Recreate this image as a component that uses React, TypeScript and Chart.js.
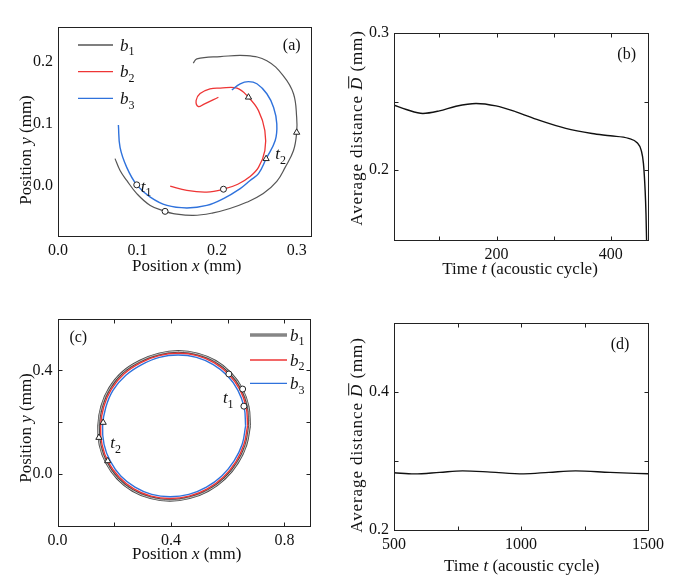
import React, { useEffect, useRef } from 'react';
import { Chart, registerables } from 'chart.js';
Chart.register(...registerables);

const FONT = '"Liberation Serif", "Times New Roman", serif';
const BLACK = '#3c3c3c';
const RED = '#ee3535';
const BLUE = '#2f72dc';

// ---------- Panel (a): trajectories ----------
const aB1: number[][] = [[0.170,0.197],[0.1745,0.204],[0.204,0.2075],[0.237,0.209],[0.2625,0.201],[0.283,0.177],[0.296,0.148],[0.300,0.110],[0.300,0.086],[0.296,0.057],[0.2855,0.030],[0.275,0.0075],[0.258,-0.012],[0.237,-0.026],[0.216,-0.036],[0.195,-0.043],[0.170,-0.047],[0.145,-0.044],[0.1346,-0.0405],[0.116,-0.031],[0.099,-0.012],[0.0864,0.009],[0.078,0.025],[0.0717,0.044]];
const aB2: number[][] = [[0.2016,0.1424],[0.183,0.131],[0.1765,0.1274],[0.1736,0.1372],[0.1786,0.1483],[0.191,0.1558],[0.204,0.157],[0.225,0.157],[0.2394,0.1424],[0.252,0.121],[0.260,0.089],[0.260,0.057],[0.252,0.030],[0.241,0.015],[0.226,0.003],[0.208,-0.005],[0.187,-0.0096],[0.162,-0.007],[0.141,0.000]];
const aB3: number[][] = [[0.2185,0.154],[0.229,0.164],[0.2394,0.1675],[0.250,0.164],[0.2625,0.148],[0.271,0.126],[0.275,0.100],[0.273,0.073],[0.2616,0.0438],[0.252,0.020],[0.2415,0.009],[0.229,-0.004],[0.208,-0.020],[0.187,-0.031],[0.162,-0.035],[0.137,-0.031],[0.116,-0.0176],[0.099,0.002],[0.0864,0.030],[0.078,0.062],[0.0759,0.098]];
const aT1: number[][] = [[0.1346,-0.0405],[0.208,-0.005],[0.099,0.002]];
const aT2: number[][] = [[0.300,0.086],[0.2394,0.1424],[0.2616,0.0438]];

// ---------- Panel (b): average distance ----------
const bTime: number[] = [20.5,42,71,100,129,164,199,234,274,321,367,399,431,446,453,457,460,461.5,462.5];
const bDist: number[] = [0.2473,0.2442,0.2413,0.2432,0.2466,0.2486,0.2468,0.2425,0.2364,0.2304,0.2267,0.2250,0.2231,0.2199,0.2146,0.2049,0.185,0.168,0.149];

// ---------- Panel (c): closed orbits ----------
const cB1: number[][] = [[0.677,0.186],[0.672,0.260],[0.649,0.330],[0.610,0.389],[0.557,0.435],[0.494,0.463],[0.426,0.473],[0.357,0.463],[0.291,0.436],[0.229,0.392],[0.184,0.332],[0.156,0.262],[0.145,0.186],[0.150,0.112],[0.173,0.043],[0.212,-0.017],[0.265,-0.063],[0.328,-0.091],[0.396,-0.101],[0.465,-0.091],[0.531,-0.063],[0.589,-0.017],[0.634,0.043],[0.664,0.112],[0.677,0.186]];
const cB2: number[][] = [[0.670,0.186],[0.665,0.259],[0.643,0.326],[0.604,0.384],[0.553,0.429],[0.492,0.457],[0.426,0.466],[0.358,0.457],[0.294,0.430],[0.235,0.387],[0.190,0.328],[0.163,0.260],[0.152,0.186],[0.157,0.114],[0.179,0.046],[0.218,-0.012],[0.269,-0.057],[0.330,-0.085],[0.397,-0.094],[0.464,-0.085],[0.528,-0.057],[0.584,-0.012],[0.628,0.046],[0.657,0.114],[0.670,0.186]];
const cB3: number[][] = [[0.663,0.186],[0.658,0.257],[0.636,0.323],[0.599,0.379],[0.549,0.422],[0.490,0.450],[0.425,0.459],[0.359,0.450],[0.297,0.422],[0.241,0.381],[0.196,0.324],[0.170,0.257],[0.159,0.186],[0.164,0.115],[0.186,0.050],[0.223,-0.007],[0.273,-0.050],[0.332,-0.078],[0.397,-0.087],[0.463,-0.078],[0.525,-0.050],[0.579,-0.007],[0.622,0.050],[0.651,0.115],[0.663,0.186]];
const cT1: number[][] = [[0.604,0.386],[0.6526,0.328],[0.657,0.262]];
const cT2: number[][] = [[0.161,0.199],[0.146,0.141],[0.177,0.051]];

// ---------- Panel (d): average distance ----------
const dTime: number[] = [500,580,680,770,880,1010,1110,1215,1350,1500];
const dDist: number[] = [0.2830,0.2812,0.2835,0.2857,0.2840,0.2814,0.2835,0.2857,0.2835,0.2815];

// tick values
const aXLabels = [0, 0.1, 0.2, 0.3];
const aYLabels = [0, 0.1, 0.2];
const bXLabels = [200, 400];
const bXMarks = [100, 200, 300, 400];
const bYLabels = [0.2, 0.3];
const bYMarks = [0.2, 0.25];
const cXLabels = [0, 0.4, 0.8];
const cXMarks = [0.2, 0.4, 0.6, 0.8];
const cYLabels = [0, 0.4];
const cYMarks = [0, 0.2, 0.4];
const dXLabels = [500, 1000, 1500];
const dXMarks = [750, 1000, 1250];
const dYLabels = [0.2, 0.4];
const dYMarks = [0.3, 0.4];

type Run = { t: string; it?: boolean; sub?: boolean; bar?: boolean };
type TextItem = { runs: Run[]; x: number; y: number; rot?: number; align?: 'center' | 'left'; size?: number; data?: boolean; spacing?: number };

const bLabel = (n: string): Run[] => [{ t: 'b', it: true }, { t: n, sub: true }];
const tLabel = (n: string): Run[] => [{ t: 't', it: true }, { t: n, sub: true }];
const posX: Run[] = [{ t: 'Position ' }, { t: 'x', it: true }, { t: ' (mm)' }];
const posY: Run[] = [{ t: 'Position ' }, { t: 'y', it: true }, { t: ' (mm)' }];
const timeT: Run[] = [{ t: 'Time ' }, { t: 't', it: true }, { t: ' (acoustic cycle)' }];
const avgD: Run[] = [{ t: 'Average distance ' }, { t: 'D', it: true, bar: true }, { t: ' (mm)' }];

function fontFor(r: Run, size: number) {
  return `${r.it ? 'italic ' : ''}${r.sub ? Math.round(size * 0.68) : size}px ${FONT}`;
}

function drawRuns(ctx: CanvasRenderingContext2D, it: TextItem, px: number, py: number) {
  const size = it.size || 17;
  ctx.save();
  ctx.translate(px, py);
  if (it.rot) ctx.rotate(it.rot);
  (ctx as any).letterSpacing = `${it.spacing || 0}px`;
  const widths = it.runs.map(r => { ctx.font = fontFor(r, size); return ctx.measureText(r.t).width; });
  const total = widths.reduce((a, b) => a + b, 0);
  let cx = it.align === 'left' ? 0 : -total / 2;
  const base = size * 0.33;
  ctx.textBaseline = 'alphabetic';
  ctx.textAlign = 'left';
  ctx.fillStyle = '#111';
  it.runs.forEach((r, i) => {
    ctx.font = fontFor(r, size);
    const dy = r.sub ? base + size * 0.28 : base;
    ctx.fillText(r.t, cx, dy);
    if (r.bar) {
      ctx.beginPath();
      ctx.moveTo(cx + 1.5, base - size * 0.8);
      ctx.lineTo(cx + widths[i] + 0.5, base - size * 0.8);
      ctx.lineWidth = 1;
      ctx.strokeStyle = '#111';
      ctx.stroke();
    }
    cx += widths[i];
  });
  ctx.restore();
}

type LegendCfg = { x1: number; x2: number; tx: number; ys: number[]; doubleFirst?: boolean };

interface PanelCfg {
  area: { l: number; t: number; r: number; b: number };
  x: { min: number; max: number; labels: number[]; marks: number[]; dec: number };
  y: { min: number; max: number; labels: number[]; marks: number[]; dec: number };
  datasets: any[];
  texts: TextItem[];
  legend?: LegendCfg;
}

const toXY = (arr: number[][]) => arr.map(p => ({ x: p[0], y: p[1] }));
const zipXY = (xs: number[], ys: number[]) => xs.map((x, i) => ({ x, y: ys[i] }));

const lineDs = (data: any[], color: string, width: number, extra: any = {}) => ({
  data, borderColor: color, borderWidth: width, showLine: true, pointRadius: 0, fill: false, tension: 0.4, ...extra,
});
const markerDs = (data: any[], style: string) => ({
  data, showLine: false, pointStyle: style, pointRadius: style === 'triangle' ? 3.6 : 3,
  pointBorderColor: '#222', pointBackgroundColor: '#fff', pointBorderWidth: 1,
});

const panels: PanelCfg[] = [
  {
    area: { l: 58, t: 27, r: 311, b: 236 },
    x: { min: 0, max: 0.318, labels: aXLabels, marks: [], dec: 1 },
    y: { min: -0.08, max: 0.255, labels: aYLabels, marks: [], dec: 1 },
    datasets: [
      markerDs(toXY(aT1), 'circle'),
      markerDs(toXY(aT2), 'triangle'),
      lineDs(toXY(aB3), BLUE, 1.4),
      lineDs(toXY(aB2), RED, 1.3),
      lineDs(toXY(aB1), '#555', 1.2),
    ],
    texts: [
      { runs: posX, x: 186.7, y: 265 },
      { runs: posY, x: 25, y: 150, rot: -Math.PI / 2 },
      { runs: [{ t: '(a)' }], x: 291.7, y: 45, size: 16 },
      { runs: tLabel('1'), x: 0.104, y: 0.0, align: 'left', data: true },
      { runs: tLabel('2'), x: 0.273, y: 0.052, align: 'left', data: true },
    ],
    legend: { x1: 78, x2: 113, tx: 120, ys: [45, 71.7, 98.3] },
  },
  {
    area: { l: 394, t: 33, r: 648, b: 240 },
    x: { min: 20.5, max: 465, labels: bXLabels, marks: bXMarks, dec: 0 },
    y: { min: 0.149, max: 0.3, labels: bYLabels, marks: bYMarks, dec: 1 },
    datasets: [lineDs(zipXY(bTime, bDist), '#111', 1.4, { cubicInterpolationMode: 'monotone' })],
    texts: [
      { runs: timeT, x: 520, y: 268 },
      { runs: avgD, x: 356.7, y: 128, rot: -Math.PI / 2, spacing: 0.9 },
      { runs: [{ t: '(b)' }], x: 626.7, y: 53.3, size: 16 },
    ],
  },
  {
    area: { l: 57.5, t: 318.5, r: 310, b: 526 },
    x: { min: 0, max: 0.89, labels: cXLabels, marks: cXMarks, dec: 1 },
    y: { min: -0.2, max: 0.6, labels: cYLabels, marks: cYMarks, dec: 1 },
    datasets: [
      markerDs(toXY(cT1), 'circle'),
      markerDs(toXY(cT2), 'triangle'),
      lineDs(toXY(cB3), BLUE, 1.4),
      lineDs(toXY(cB2), RED, 1.4),
      lineDs(toXY(cB1), '#cfcfcf', 0.9),
      lineDs(toXY(cB1), '#4a4a4a', 2.8),
    ],
    texts: [
      { runs: posX, x: 186.7, y: 553 },
      { runs: posY, x: 25, y: 428, rot: -Math.PI / 2 },
      { runs: [{ t: '(c)' }], x: 78.3, y: 336.7, size: 16 },
      { runs: tLabel('1'), x: 0.583, y: 0.296, align: 'left', data: true },
      { runs: tLabel('2'), x: 0.186, y: 0.121, align: 'left', data: true },
    ],
    legend: { x1: 250, x2: 287, tx: 290, ys: [335, 360, 383.3], doubleFirst: true },
  },
  {
    area: { l: 394, t: 323, r: 648, b: 530 },
    x: { min: 500, max: 1500, labels: dXLabels, marks: dXMarks, dec: 0 },
    y: { min: 0.2, max: 0.5, labels: dYLabels, marks: dYMarks, dec: 1 },
    datasets: [lineDs(zipXY(dTime, dDist), '#111', 1.3, { cubicInterpolationMode: 'monotone' })],
    texts: [
      { runs: timeT, x: 521.7, y: 565 },
      { runs: avgD, x: 356.7, y: 435, rot: -Math.PI / 2, spacing: 0.9 },
      { runs: [{ t: '(d)' }], x: 620, y: 343.3, size: 16 },
    ],
  },
];

function axisOpts(ax: PanelCfg['x'], isX: boolean) {
  return {
    type: 'linear',
    min: ax.min,
    max: ax.max,
    afterBuildTicks: (s: any) => { s.ticks = ax.labels.map(v => ({ value: v })); },
    afterFit: (s: any) => { if (isX) s.height = 40; else s.width = 40; },
    ticks: {
      callback: (v: any) => Number(v).toFixed(ax.dec),
      font: { family: FONT, size: 16 },
      color: '#111',
      padding: 5,
      maxRotation: 0,
      autoSkip: false,
    },
    grid: { display: false, drawTicks: false },
    border: { display: false },
  };
}

function decoPlugin(cfg: PanelCfg) {
  return {
    id: 'deco',
    afterDraw(chart: any) {
      const ctx: CanvasRenderingContext2D = chart.ctx;
      const { left, top, right, bottom } = chart.chartArea;
      const xs = chart.scales.x, ys = chart.scales.y;
      ctx.save();
      ctx.strokeStyle = '#222';
      ctx.lineWidth = 1;
      const L = Math.round(left) + 0.5, T = Math.round(top) + 0.5, R = Math.round(right) + 0.5, B = Math.round(bottom) + 0.5;
      ctx.strokeRect(L, T, R - L, B - T);
      const tl = 4;
      ctx.beginPath();
      cfg.x.marks.forEach(v => {
        const p = Math.round(xs.getPixelForValue(v)) + 0.5;
        ctx.moveTo(p, B); ctx.lineTo(p, B - tl);
        ctx.moveTo(p, T); ctx.lineTo(p, T + tl);
      });
      cfg.y.marks.forEach(v => {
        const p = Math.round(ys.getPixelForValue(v)) + 0.5;
        ctx.moveTo(L, p); ctx.lineTo(L + tl, p);
        ctx.moveTo(R, p); ctx.lineTo(R - tl, p);
      });
      ctx.stroke();
      if (cfg.legend) {
        const lg = cfg.legend;
        const cols = [BLACK, RED, BLUE];
        lg.ys.forEach((y, i) => {
          ctx.beginPath();
          ctx.moveTo(lg.x1, y); ctx.lineTo(lg.x2, y);
          if (i === 0 && lg.doubleFirst) {
            ctx.strokeStyle = '#4a4a4a'; ctx.lineWidth = 2.8; ctx.stroke();
            ctx.strokeStyle = '#cfcfcf'; ctx.lineWidth = 0.9; ctx.stroke();
          } else {
            ctx.strokeStyle = i === 0 ? '#555' : cols[i]; ctx.lineWidth = 1.3; ctx.stroke();
          }
          drawRuns(ctx, { runs: bLabel(String(i + 1)), x: 0, y: 0, align: 'left', size: 17 }, lg.tx, y);
        });
      }
      cfg.texts.forEach(t => {
        const px = t.data ? xs.getPixelForValue(t.x) : t.x;
        const py = t.data ? ys.getPixelForValue(t.y) : t.y;
        drawRuns(ctx, t, px, py);
      });
      ctx.restore();
    },
  };
}

function Panel({ cfg }: { cfg: PanelCfg }) {
  const ref = useRef<HTMLCanvasElement>(null);
  useEffect(() => {
    const a = cfg.area;
    const chart = new Chart(ref.current as HTMLCanvasElement, {
      type: 'scatter',
      data: { datasets: cfg.datasets },
      options: {
        responsive: false,
        animation: false,
        events: [],
        layout: { padding: { left: a.l - 40, top: a.t, right: 677 - a.r, bottom: 585 - a.b - 40 } },
        plugins: { legend: { display: false }, tooltip: { enabled: false } },
        scales: { x: axisOpts(cfg.x, true), y: axisOpts(cfg.y, false) } as any,
      } as any,
      plugins: [decoPlugin(cfg)],
    });
    return () => chart.destroy();
  }, []);
  return <canvas ref={ref} width={677} height={585} style={{ position: 'absolute', left: 0, top: 0 }} />;
}

export default function App() {
  return (
    <div style={{ position: 'absolute', left: 0, top: 0, width: 677, height: 585, background: '#fff' }}>
      {panels.map((p, i) => <Panel key={i} cfg={p} />)}
    </div>
  );
}
